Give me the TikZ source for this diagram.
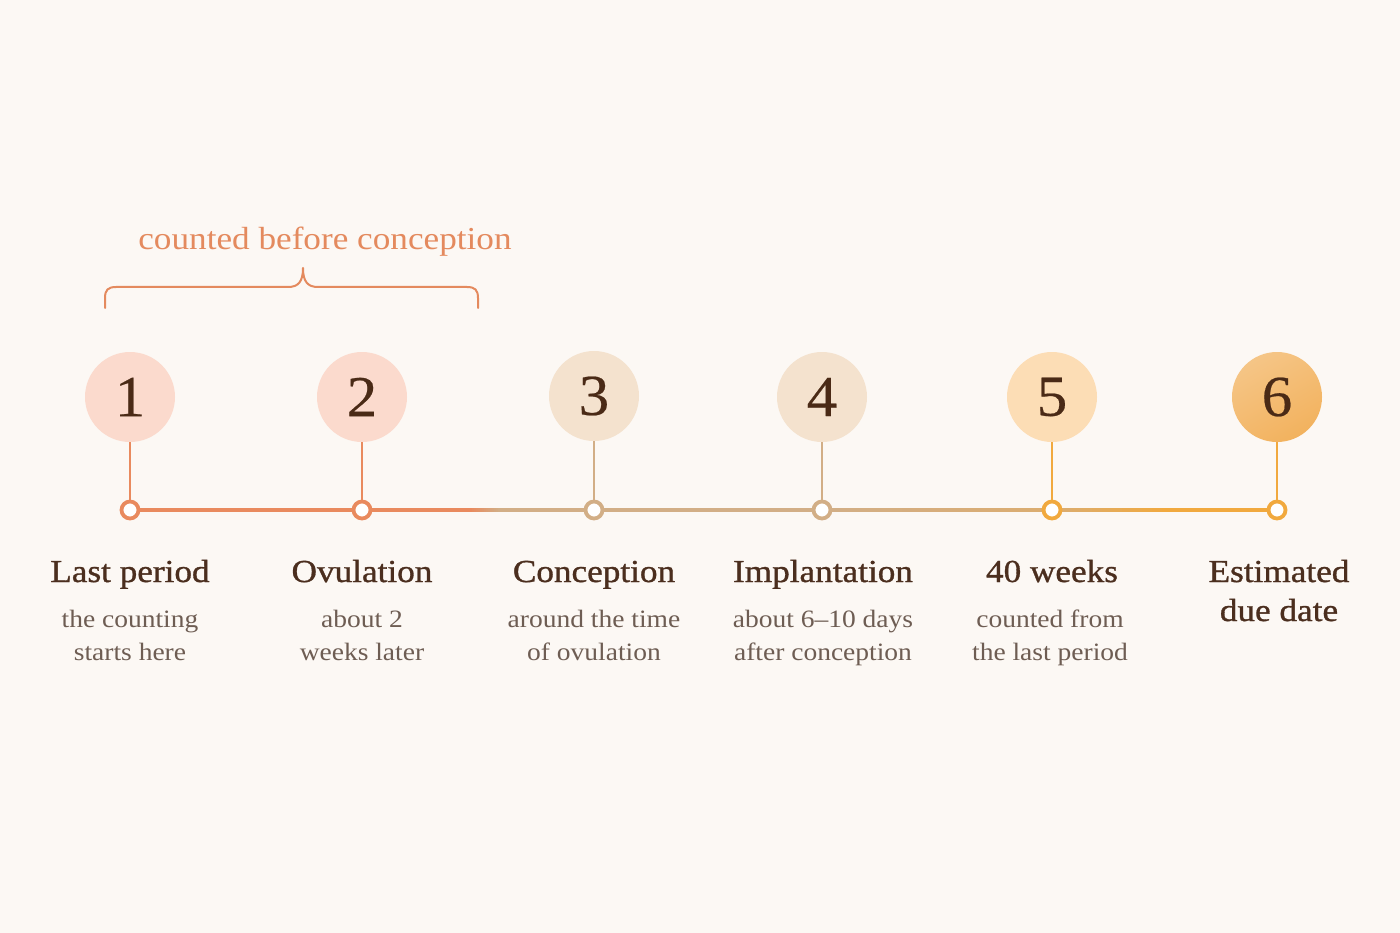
\documentclass[tikz,border=0pt]{standalone}
\usepackage{fontspec}
\setmainfont{Liberation Serif}[FakeStretch=1.1]
\newfontfamily\headfont{Liberation Serif}[FakeBold=1.0,FakeStretch=1.1]
\newfontfamily\numfont{Liberation Serif}[FakeBold=0.4,FakeStretch=1.05]
\usetikzlibrary{calc}
\definecolor{bg}{HTML}{FCF8F4}
\definecolor{orangeA}{HTML}{E98A5E}
\definecolor{tanA}{HTML}{D2AE86}
\definecolor{goldA}{HTML}{F1A93E}
\colorlet{tangold}{tanA!70!goldA}
\definecolor{pinkfill}{HTML}{FBDACD}
\definecolor{tanfill}{HTML}{F4E2CE}
\definecolor{peachfill}{HTML}{FCDDB5}
\definecolor{orangefill}{HTML}{F2B25E}
\definecolor{numcol}{HTML}{4A2A16}
\definecolor{headcol}{HTML}{4B2E1E}
\definecolor{subcol}{HTML}{6E5D53}
\definecolor{bracecol}{HTML}{E48A5E}
\tikzset{
  bignum/.style={circle, minimum size=90pt, inner sep=0pt, font=\numfont\fontsize{58}{58}\selectfont, text=numcol},
  ring/.style={circle, draw, line width=3.8pt, fill=white, minimum size=17pt, inner sep=0pt},
  stem/.style={line width=2.3pt},
  axis/.style={line width=4pt},
  head/.style={font=\headfont\fontsize{32}{39}\selectfont, text=headcol, align=center},
  sub/.style={font=\fontsize{25}{33}\selectfont, text=subcol, align=center},
}
\begin{document}
\begin{tikzpicture}[x=1pt,y=-1pt]
\fill[bg] (0,0) rectangle (1400,933);
\useasboundingbox (0,0) rectangle (1400,933);
% positions on the axis
\coordinate (p1) at (130,510);
\coordinate (p2) at (362,510);
\coordinate (p3) at (594,510);
\coordinate (p4) at (822,510);
\coordinate (p5) at (1052,510);
\coordinate (p6) at (1277,510);
% big circles
\node[bignum, fill=pinkfill] (c1) at (130,397) {1};
\node[bignum, fill=pinkfill] (c2) at (362,397) {2};
\node[bignum, fill=tanfill] (c3) at (594,396) {3};
\node[bignum, fill=tanfill] (c4) at (822,397) {4};
\node[bignum, fill=peachfill] (c5) at (1052,397) {5};
\node[bignum, top color=orangefill!75!white, bottom color=orangefill, shading angle=30] (c6) at (1277,397) {6};
% axis
\draw[axis, orangeA] (p1) -- (p2) -- ($(p2)+(108,0)$);
\foreach \i in {0,...,14} {
  \pgfmathsetmacro{\pc}{100-\i*100/14}
  \draw[axis, color=orangeA!\pc!tanA] ($(p2)+(108+\i*2,0)$) -- ++(2.6,0);
}
\draw[axis, tanA] ($(p2)+(138,0)$) -- (p3) -- (p4);
\foreach \i in {0,...,22} {
  \pgfmathsetmacro{\pc}{100-\i*100/22}
  \draw[axis, color=tanA!\pc!tangold] ($(p4)+(\i*10,0)$) -- ++(10.6,0);
}
\foreach \i in {0,...,11} {
  \pgfmathsetmacro{\pc}{100-\i*100/11}
  \draw[axis, color=tangold!\pc!goldA] ($(p5)+(\i*10,0)$) -- ++(10.6,0);
}
\draw[axis, goldA] ($(p5)+(118,0)$) -- (p6);
% rings
\node[ring, draw=orangeA] (r1) at (p1) {};
\node[ring, draw=orangeA] (r2) at (p2) {};
\node[ring, draw=tanA] (r3) at (p3) {};
\node[ring, draw=tanA] (r4) at (p4) {};
\node[ring, draw=goldA] (r5) at (p5) {};
\node[ring, draw=goldA] (r6) at (p6) {};
% stems
\draw[stem, orangeA] (c1.south) -- (r1.north);
\draw[stem, orangeA] (c2.south) -- (r2.north);
\draw[stem, tanA] (c3.south) -- (r3.north);
\draw[stem, tanA] (c4.south) -- (r4.north);
\draw[stem, goldA] (c5.south) -- (r5.north);
\draw[stem, goldA] (c6.south) -- (r6.north);
% headings
\node[head, anchor=base] (h1) at (130,582) {Last period};
\node[head, anchor=base] (h2) at (362,582) {Ovulation};
\node[head, anchor=base] (h3) at (594,582) {Conception};
\node[head, anchor=base] (h4) at (823,582) {Implantation};
\node[head, anchor=base] (h5) at (1052,582) {40 weeks};
\node[head, anchor=base] (h6) at (1279,621) {Estimated\\due date};
% subtexts
\node[sub, anchor=base] (s1) at (130,660) {the counting\\starts here};
\node[sub, anchor=base] (s2) at (362,660) {about 2\\weeks later};
\node[sub, anchor=base] (s3) at (594,660) {around the time\\of ovulation};
\node[sub, anchor=base] (s4) at (823,660) {about 6–10 days\\after conception};
\node[sub, anchor=base] (s5) at (1050,660) {counted from\\the last period};
% brace
\draw[bracecol, line width=2pt, line cap=round, line join=round]
  (105,308) -- (105,298) .. controls (105,290) and (108,287) .. (116,287)
  -- (288,287) .. controls (298,287) and (303,282) .. (303,268)
  .. controls (303,282) and (308,287) .. (318,287)
  -- (467,287) .. controls (475,287) and (478,290) .. (478,298) -- (478,308);
\node[font=\fontsize{32}{32}\selectfont, text=bracecol, anchor=base] (lbl) at (325,250) {counted before conception};
\end{tikzpicture}
\end{document}
